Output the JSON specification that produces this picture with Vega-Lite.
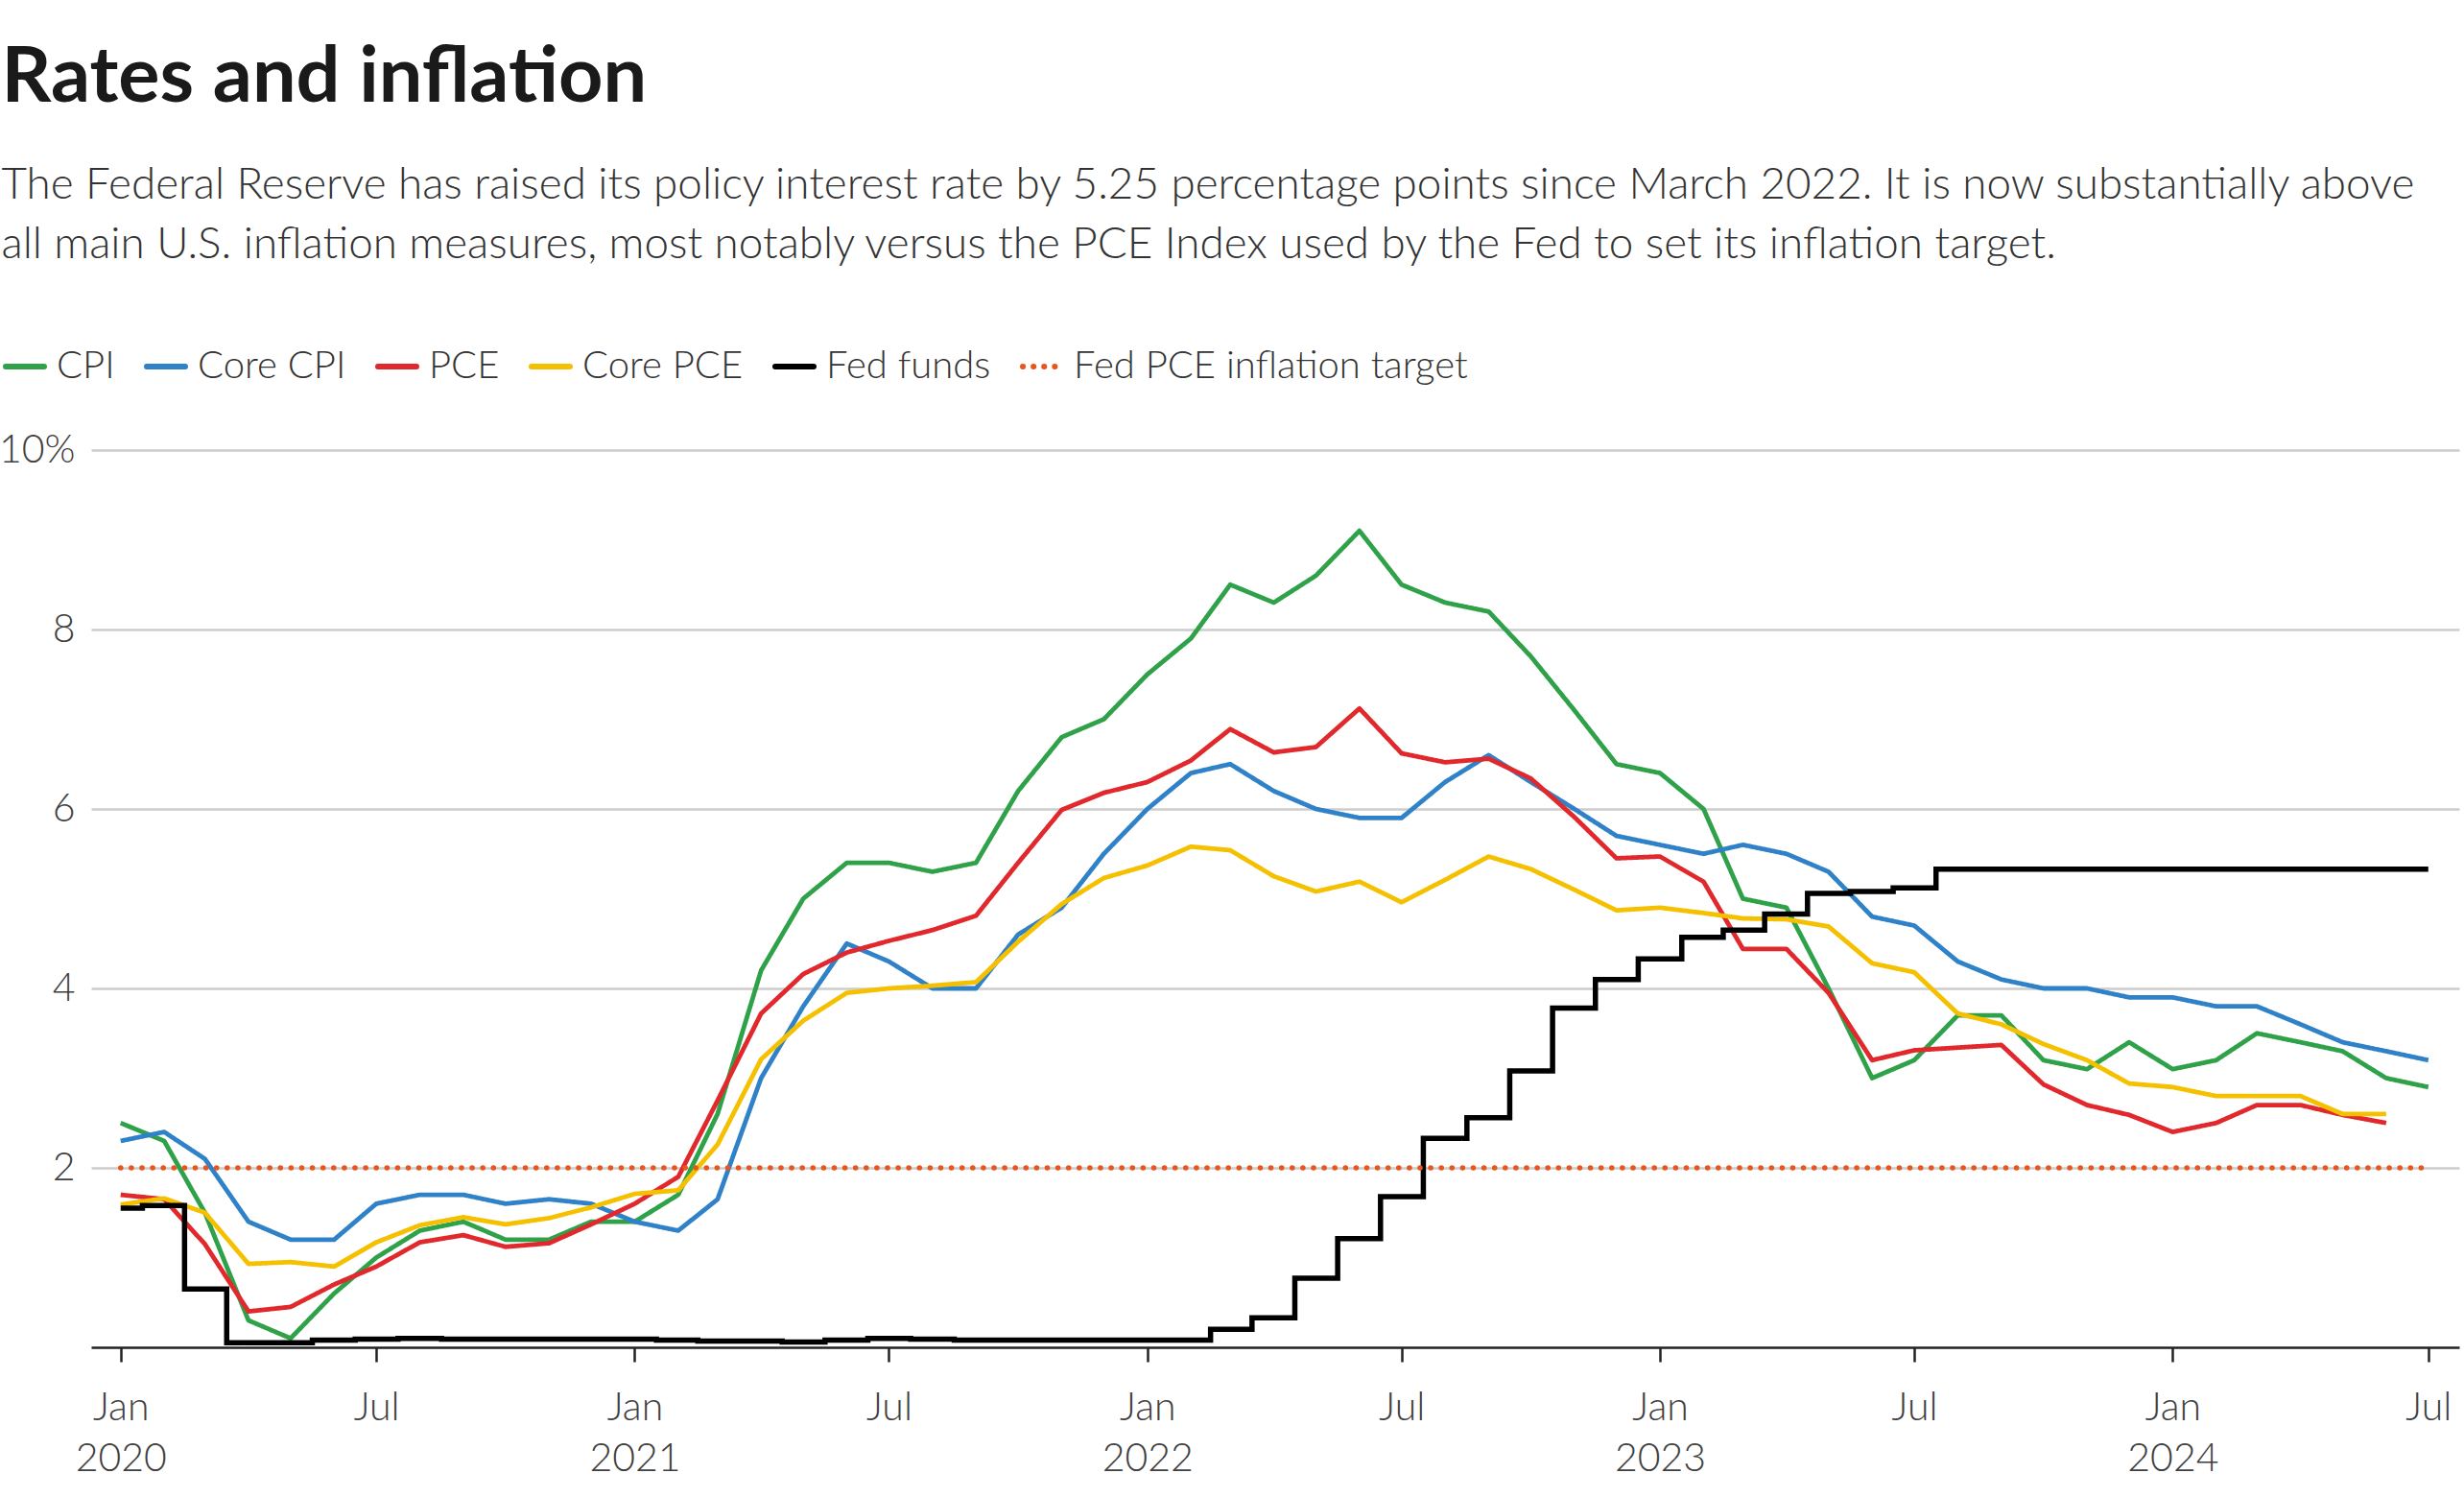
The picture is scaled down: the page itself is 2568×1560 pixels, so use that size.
{
  "$schema": "https://vega.github.io/schema/vega-lite/v6.json",
  "width": 2468,
  "height": 935,
  "autosize": {"type": "none"},
  "padding": {"left": 95, "top": 469, "right": 5, "bottom": 156},
  "background": "white",
  "title": {
    "text": "Rates and inflation",
    "subtitle": [
      "The Federal Reserve has raised its policy interest rate by 5.25 percentage points since March 2022. It is now substantially above",
      "all main U.S. inflation measures, most notably versus the PCE Index used by the Fed to set its inflation target."
    ],
    "anchor": "start",
    "frame": "bounds",
    "orient": "top",
    "dx": 3,
    "font": "Lato",
    "fontSize": 81,
    "fontWeight": 700,
    "color": "#1a1a1a",
    "subtitleFont": "Lato",
    "subtitleFontSize": 45.8,
    "subtitleFontWeight": 300,
    "subtitleColor": "#333333",
    "subtitleLineHeight": 62,
    "subtitlePadding": 48,
    "offset": 80
  },
  "datasets": {
    "monthly": [
      {"date": "2020-01-01", "CPI": 2.5, "Core CPI": 2.3, "PCE": 1.7, "Core PCE": 1.59, "Fed funds": 1.55},
      {"date": "2020-02-01", "CPI": 2.3, "Core CPI": 2.4, "PCE": 1.65, "Core PCE": 1.66, "Fed funds": 1.58},
      {"date": "2020-03-01", "CPI": 1.5, "Core CPI": 2.1, "PCE": 1.15, "Core PCE": 1.5, "Fed funds": 0.65},
      {"date": "2020-04-01", "CPI": 0.3, "Core CPI": 1.4, "PCE": 0.4, "Core PCE": 0.93, "Fed funds": 0.05},
      {"date": "2020-05-01", "CPI": 0.1, "Core CPI": 1.2, "PCE": 0.45, "Core PCE": 0.95, "Fed funds": 0.05},
      {"date": "2020-06-01", "CPI": 0.6, "Core CPI": 1.2, "PCE": 0.7, "Core PCE": 0.9, "Fed funds": 0.08},
      {"date": "2020-07-01", "CPI": 1.0, "Core CPI": 1.6, "PCE": 0.9, "Core PCE": 1.17, "Fed funds": 0.09},
      {"date": "2020-08-01", "CPI": 1.3, "Core CPI": 1.7, "PCE": 1.17, "Core PCE": 1.36, "Fed funds": 0.1},
      {"date": "2020-09-01", "CPI": 1.4, "Core CPI": 1.7, "PCE": 1.25, "Core PCE": 1.45, "Fed funds": 0.09},
      {"date": "2020-10-01", "CPI": 1.2, "Core CPI": 1.6, "PCE": 1.12, "Core PCE": 1.37, "Fed funds": 0.09},
      {"date": "2020-11-01", "CPI": 1.2, "Core CPI": 1.65, "PCE": 1.16, "Core PCE": 1.44, "Fed funds": 0.09},
      {"date": "2020-12-01", "CPI": 1.4, "Core CPI": 1.6, "PCE": 1.37, "Core PCE": 1.56, "Fed funds": 0.09},
      {"date": "2021-01-01", "CPI": 1.4, "Core CPI": 1.4, "PCE": 1.6, "Core PCE": 1.71, "Fed funds": 0.09},
      {"date": "2021-02-01", "CPI": 1.7, "Core CPI": 1.3, "PCE": 1.9, "Core PCE": 1.75, "Fed funds": 0.08},
      {"date": "2021-03-01", "CPI": 2.6, "Core CPI": 1.65, "PCE": 2.75, "Core PCE": 2.26, "Fed funds": 0.07},
      {"date": "2021-04-01", "CPI": 4.2, "Core CPI": 3.0, "PCE": 3.72, "Core PCE": 3.21, "Fed funds": 0.07},
      {"date": "2021-05-01", "CPI": 5.0, "Core CPI": 3.8, "PCE": 4.16, "Core PCE": 3.64, "Fed funds": 0.06},
      {"date": "2021-06-01", "CPI": 5.4, "Core CPI": 4.5, "PCE": 4.4, "Core PCE": 3.95, "Fed funds": 0.08},
      {"date": "2021-07-01", "CPI": 5.4, "Core CPI": 4.3, "PCE": 4.53, "Core PCE": 4.0, "Fed funds": 0.1},
      {"date": "2021-08-01", "CPI": 5.3, "Core CPI": 4.0, "PCE": 4.65, "Core PCE": 4.03, "Fed funds": 0.09},
      {"date": "2021-09-01", "CPI": 5.4, "Core CPI": 4.0, "PCE": 4.81, "Core PCE": 4.07, "Fed funds": 0.08},
      {"date": "2021-10-01", "CPI": 6.2, "Core CPI": 4.6, "PCE": 5.4, "Core PCE": 4.52, "Fed funds": 0.08},
      {"date": "2021-11-01", "CPI": 6.8, "Core CPI": 4.9, "PCE": 5.99, "Core PCE": 4.94, "Fed funds": 0.08},
      {"date": "2021-12-01", "CPI": 7.0, "Core CPI": 5.5, "PCE": 6.18, "Core PCE": 5.23, "Fed funds": 0.08},
      {"date": "2022-01-01", "CPI": 7.5, "Core CPI": 6.0, "PCE": 6.3, "Core PCE": 5.37, "Fed funds": 0.08},
      {"date": "2022-02-01", "CPI": 7.9, "Core CPI": 6.4, "PCE": 6.54, "Core PCE": 5.58, "Fed funds": 0.08},
      {"date": "2022-03-01", "CPI": 8.5, "Core CPI": 6.5, "PCE": 6.89, "Core PCE": 5.54, "Fed funds": 0.2},
      {"date": "2022-04-01", "CPI": 8.3, "Core CPI": 6.2, "PCE": 6.63, "Core PCE": 5.25, "Fed funds": 0.33},
      {"date": "2022-05-01", "CPI": 8.6, "Core CPI": 6.0, "PCE": 6.69, "Core PCE": 5.08, "Fed funds": 0.77},
      {"date": "2022-06-01", "CPI": 9.1, "Core CPI": 5.9, "PCE": 7.12, "Core PCE": 5.19, "Fed funds": 1.21},
      {"date": "2022-07-01", "CPI": 8.5, "Core CPI": 5.9, "PCE": 6.62, "Core PCE": 4.96, "Fed funds": 1.68},
      {"date": "2022-08-01", "CPI": 8.3, "Core CPI": 6.3, "PCE": 6.52, "Core PCE": 5.21, "Fed funds": 2.33},
      {"date": "2022-09-01", "CPI": 8.2, "Core CPI": 6.6, "PCE": 6.56, "Core PCE": 5.47, "Fed funds": 2.56},
      {"date": "2022-10-01", "CPI": 7.7, "Core CPI": 6.3, "PCE": 6.34, "Core PCE": 5.33, "Fed funds": 3.08},
      {"date": "2022-11-01", "CPI": 7.1, "Core CPI": 6.0, "PCE": 5.91, "Core PCE": 5.1, "Fed funds": 3.78},
      {"date": "2022-12-01", "CPI": 6.5, "Core CPI": 5.7, "PCE": 5.45, "Core PCE": 4.87, "Fed funds": 4.1},
      {"date": "2023-01-01", "CPI": 6.4, "Core CPI": 5.6, "PCE": 5.47, "Core PCE": 4.9, "Fed funds": 4.33},
      {"date": "2023-02-01", "CPI": 6.0, "Core CPI": 5.5, "PCE": 5.19, "Core PCE": 4.84, "Fed funds": 4.57},
      {"date": "2023-03-01", "CPI": 5.0, "Core CPI": 5.6, "PCE": 4.44, "Core PCE": 4.78, "Fed funds": 4.65},
      {"date": "2023-04-01", "CPI": 4.9, "Core CPI": 5.5, "PCE": 4.44, "Core PCE": 4.77, "Fed funds": 4.83},
      {"date": "2023-05-01", "CPI": 4.0, "Core CPI": 5.3, "PCE": 3.95, "Core PCE": 4.69, "Fed funds": 5.06},
      {"date": "2023-06-01", "CPI": 3.0, "Core CPI": 4.8, "PCE": 3.2, "Core PCE": 4.28, "Fed funds": 5.08},
      {"date": "2023-07-01", "CPI": 3.2, "Core CPI": 4.7, "PCE": 3.31, "Core PCE": 4.18, "Fed funds": 5.12},
      {"date": "2023-08-01", "CPI": 3.7, "Core CPI": 4.3, "PCE": 3.34, "Core PCE": 3.72, "Fed funds": 5.33},
      {"date": "2023-09-01", "CPI": 3.7, "Core CPI": 4.1, "PCE": 3.37, "Core PCE": 3.6, "Fed funds": 5.33},
      {"date": "2023-10-01", "CPI": 3.2, "Core CPI": 4.0, "PCE": 2.93, "Core PCE": 3.38, "Fed funds": 5.33},
      {"date": "2023-11-01", "CPI": 3.1, "Core CPI": 4.0, "PCE": 2.7, "Core PCE": 3.2, "Fed funds": 5.33},
      {"date": "2023-12-01", "CPI": 3.4, "Core CPI": 3.9, "PCE": 2.59, "Core PCE": 2.94, "Fed funds": 5.33},
      {"date": "2024-01-01", "CPI": 3.1, "Core CPI": 3.9, "PCE": 2.4, "Core PCE": 2.9, "Fed funds": 5.33},
      {"date": "2024-02-01", "CPI": 3.2, "Core CPI": 3.8, "PCE": 2.5, "Core PCE": 2.8, "Fed funds": 5.33},
      {"date": "2024-03-01", "CPI": 3.5, "Core CPI": 3.8, "PCE": 2.7, "Core PCE": 2.8, "Fed funds": 5.33},
      {"date": "2024-04-01", "CPI": 3.4, "Core CPI": 3.6, "PCE": 2.7, "Core PCE": 2.8, "Fed funds": 5.33},
      {"date": "2024-05-01", "CPI": 3.3, "Core CPI": 3.4, "PCE": 2.59, "Core PCE": 2.6, "Fed funds": 5.33},
      {"date": "2024-06-01", "CPI": 3.0, "Core CPI": 3.3, "PCE": 2.5, "Core PCE": 2.6, "Fed funds": 5.33},
      {"date": "2024-07-01", "CPI": 2.9, "Core CPI": 3.2, "PCE": null, "Core PCE": null, "Fed funds": 5.33}
    ],
    "target": [
      {"date": "2020-01-01", "series": "Fed PCE inflation target", "value": 2},
      {"date": "2024-07-01", "series": "Fed PCE inflation target", "value": 2}
    ]
  },
  "encoding": {
    "x": {
      "field": "date",
      "type": "temporal",
      "scale": {
        "type": "utc",
        "domain": [
          {"year": 2019, "month": 12, "date": 11, "utc": true},
          {"year": 2024, "month": 7, "date": 23, "utc": true}
        ]
      },
      "axis": {
        "title": null,
        "values": [
          {"year": 2020, "month": 1, "date": 1, "utc": true},
          {"year": 2020, "month": 7, "date": 1, "utc": true},
          {"year": 2021, "month": 1, "date": 1, "utc": true},
          {"year": 2021, "month": 7, "date": 1, "utc": true},
          {"year": 2022, "month": 1, "date": 1, "utc": true},
          {"year": 2022, "month": 7, "date": 1, "utc": true},
          {"year": 2023, "month": 1, "date": 1, "utc": true},
          {"year": 2023, "month": 7, "date": 1, "utc": true},
          {"year": 2024, "month": 1, "date": 1, "utc": true},
          {"year": 2024, "month": 7, "date": 1, "utc": true}
        ],
        "labelExpr": "utcmonth(datum.value) == 0 ? ['Jan', utcFormat(datum.value, '%Y')] : 'Jul'",
        "grid": false,
        "domain": true,
        "domainColor": "#222222",
        "domainWidth": 2.5,
        "ticks": true,
        "tickColor": "#222222",
        "tickWidth": 2.5,
        "tickSize": 15,
        "labelPadding": 28,
        "labelLineHeight": 53,
        "labelAlign": "center",
        "labelFlush": false,
        "labelOverlap": false
      }
    },
    "y": {
      "field": "value",
      "type": "quantitative",
      "scale": {"domain": [0, 10], "nice": false},
      "axis": {
        "title": null,
        "values": [2, 4, 6, 8, 10],
        "labelExpr": "datum.value == 10 ? '10%' : datum.label",
        "domain": false,
        "ticks": false,
        "grid": true,
        "gridColor": "#cccccc",
        "gridWidth": 2.5,
        "labelPadding": 17
      }
    },
    "color": {
      "field": "series",
      "type": "nominal",
      "scale": {
        "domain": ["CPI", "Core CPI", "PCE", "Core PCE", "Fed funds", "Fed PCE inflation target"],
        "range": ["#2ea149", "#2f82c7", "#e1282c", "#f5c000", "#000000", "#e8561c"]
      },
      "legend": {
        "title": null,
        "orient": "none",
        "legendX": -92,
        "legendY": -110,
        "direction": "horizontal",
        "symbolType": "stroke",
        "symbolSize": 1600,
        "symbolStrokeWidth": 6,
        "labelFont": "Lato",
        "labelFontSize": 40,
        "labelFontWeight": 300,
        "labelColor": "#333333",
        "labelLimit": 2000,
        "labelOffset": 10,
        "columnPadding": 21,
        "encoding": {"symbols": {"strokeCap": {"value": "round"}}}
      }
    },
    "strokeDash": {
      "field": "series",
      "type": "nominal",
      "scale": {
        "domain": ["CPI", "Core CPI", "PCE", "Core PCE", "Fed funds", "Fed PCE inflation target"],
        "range": [[1, 0], [1, 0], [1, 0], [1, 0], [1, 0], [0.1, 11]]
      },
      "legend": {
        "title": null,
        "orient": "none",
        "legendX": -92,
        "legendY": -110,
        "direction": "horizontal",
        "symbolType": "stroke",
        "symbolSize": 1600,
        "symbolStrokeWidth": 6,
        "labelFont": "Lato",
        "labelFontSize": 40,
        "labelFontWeight": 300,
        "labelColor": "#333333",
        "labelLimit": 2000,
        "labelOffset": 10,
        "columnPadding": 21,
        "encoding": {"symbols": {"strokeCap": {"value": "round"}}}
      }
    }
  },
  "layer": [
    {
      "data": {"name": "monthly"},
      "transform": [
        {"fold": ["CPI", "Core CPI", "PCE", "Core PCE"], "as": ["series", "value"]}
      ],
      "mark": {"type": "line", "strokeWidth": 4.8, "strokeJoin": "round"}
    },
    {
      "data": {"name": "monthly"},
      "transform": [
        {"fold": ["Fed funds"], "as": ["series", "value"]}
      ],
      "mark": {"type": "line", "strokeWidth": 5.5, "interpolate": "step"}
    },
    {
      "data": {"name": "target"},
      "mark": {"type": "line", "strokeWidth": 5.5, "strokeCap": "round"}
    }
  ],
  "config": {
    "view": {"stroke": null},
    "axis": {
      "labelFont": "Lato",
      "labelFontSize": 41,
      "labelFontWeight": 300,
      "labelColor": "#404040"
    }
  }
}
